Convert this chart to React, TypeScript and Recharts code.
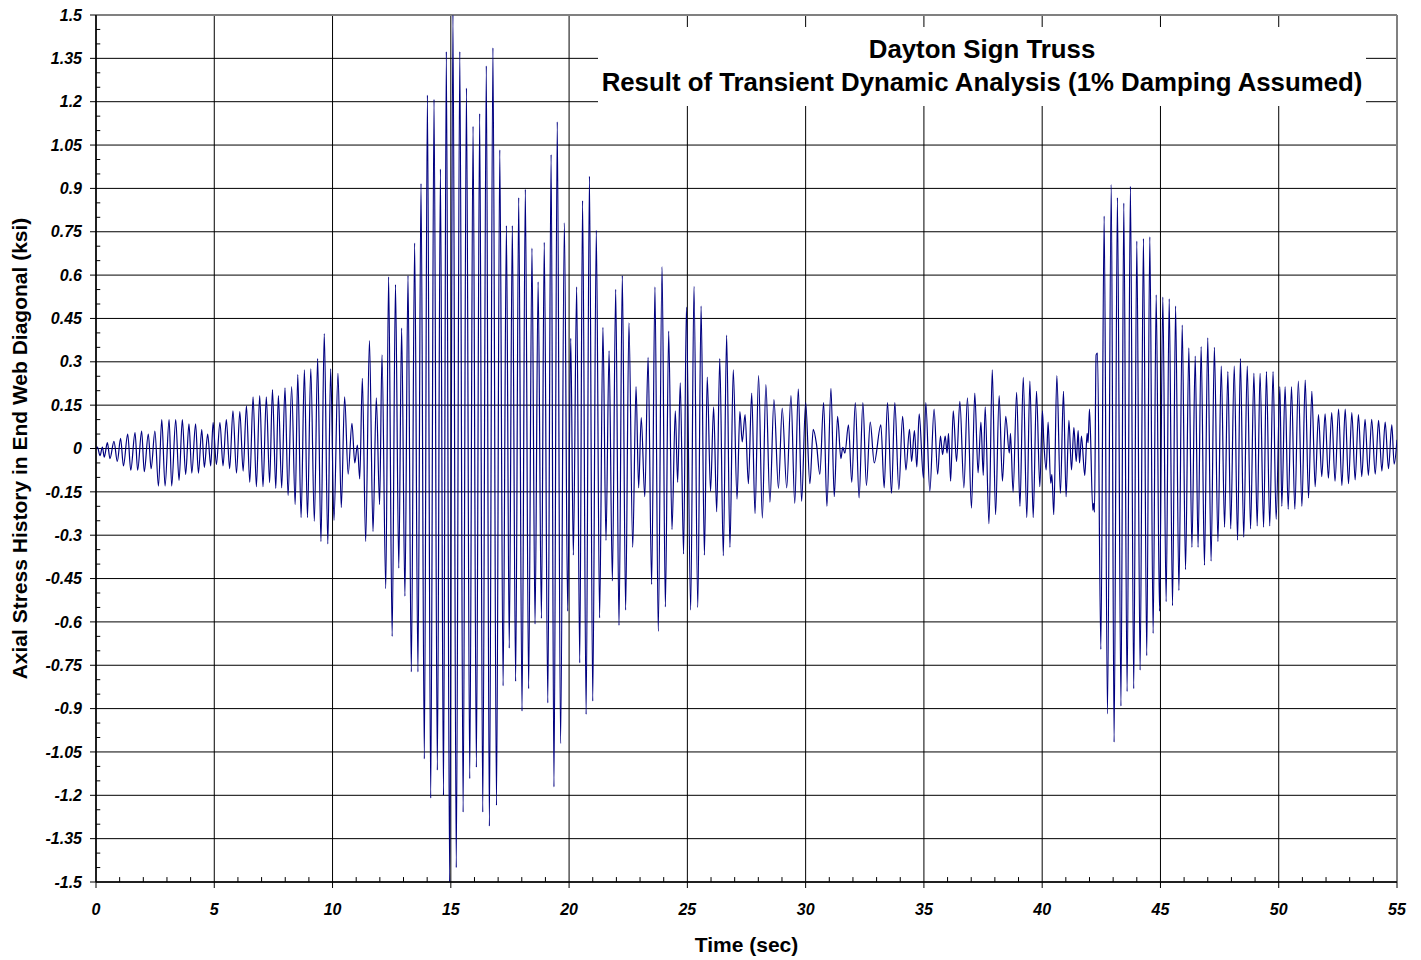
import React from "react";
import { LineChart, Line, XAxis, YAxis, CartesianGrid, ReferenceLine, Label } from "recharts";

// ---- tick labels ----
const xTicks = [0, 5, 10, 15, 20, 25, 30, 35, 40, 45, 50, 55];
const yTicks = [1.5, 1.35, 1.2, 1.05, 0.9, 0.75, 0.6, 0.45, 0.3, 0.15, 0, -0.15, -0.3, -0.45, -0.6, -0.75, -0.9, -1.05, -1.2, -1.35, -1.5];
const xMinorTicks = [1, 2, 3, 4, 6, 7, 8, 9, 11, 12, 13, 14, 16, 17, 18, 19, 21, 22, 23, 24, 26, 27, 28, 29, 31, 32, 33, 34, 36, 37, 38, 39, 41, 42, 43, 44, 46, 47, 48, 49, 51, 52, 53, 54];
const yMinorTicks = [1.45, 1.4, 1.3, 1.25, 1.15, 1.1, 1.0, 0.95, 0.85, 0.8, 0.7, 0.65, 0.55, 0.5, 0.4, 0.35, 0.25, 0.2, 0.1, 0.05,
  -0.05, -0.1, -0.2, -0.25, -0.35, -0.4, -0.5, -0.55, -0.65, -0.7, -0.8, -0.85, -0.95, -1.0, -1.1, -1.15, -1.25, -1.3, -1.4, -1.45];

// ---- series: time (sec) and axial stress (ksi) ----
const time0to5 = [0, 0.06, 0.17, 0.27, 0.35, 0.48, 0.59, 0.76, 0.9, 1.04, 1.16, 1.34, 1.47, 1.65, 1.76, 1.93, 2.04, 2.21, 2.33, 2.49, 2.64, 2.78, 2.92, 3.09, 3.2, 3.37, 3.51, 3.65, 3.79, 3.93, 4.05, 4.21, 4.33, 4.47, 4.58, 4.72];
const stress0to5 = [0, 0.005, -0.025, 0.005, -0.03, 0.02, -0.035, 0.025, -0.045, 0.035, -0.06, 0.05, -0.075, 0.055, -0.075, 0.06, -0.08, 0.05, -0.07, 0.06, -0.13, 0.1, -0.13, 0.1, -0.13, 0.1, -0.11, 0.1, -0.09, 0.085, -0.085, 0.085, -0.085, 0.065, -0.065, 0.05];

const time5to10 = [4.85, 4.95, 5.09, 5.24, 5.37, 5.51, 5.65, 5.79, 5.94, 6.08, 6.22, 6.36, 6.5, 6.64, 6.78, 6.92, 7.06, 7.2, 7.34, 7.46, 7.6, 7.71, 7.85, 7.99, 8.12, 8.27, 8.42, 8.53, 8.67, 8.81, 8.94, 9.08, 9.23, 9.37, 9.51, 9.65, 9.8];
const stress5to10 = [-0.06, 0.09, -0.055, 0.09, -0.06, 0.1, -0.07, 0.13, -0.085, 0.128, -0.078, 0.148, -0.117, 0.179, -0.132, 0.183, -0.132, 0.179, -0.118, 0.204, -0.138, 0.183, -0.136, 0.21, -0.163, 0.214, -0.194, 0.256, -0.239, 0.272, -0.239, 0.276, -0.252, 0.311, -0.322, 0.398, -0.33];

const time10to15 = [9.92, 10.06, 10.23, 10.37, 10.51, 10.66, 10.82, 10.94, 11.05, 11.15, 11.26, 11.4, 11.56, 11.71, 11.85, 11.99, 12.09, 12.25, 12.37, 12.52, 12.66, 12.8, 12.92, 13.06, 13.19, 13.33, 13.47, 13.61, 13.74, 13.88, 14.01, 14.15, 14.29, 14.43, 14.56, 14.69, 14.81];
const stress10to15 = [0.276, -0.249, 0.26, -0.204, 0.179, -0.089, 0.087, -0.05, 0.012, -0.105, 0.243, -0.322, 0.373, -0.287, 0.175, -0.194, 0.324, -0.485, 0.594, -0.65, 0.567, -0.414, 0.417, -0.511, 0.598, -0.773, 0.711, -0.773, 0.917, -1.074, 1.223, -1.21, 1.208, -1.113, 0.967, -1.2, 1.373];

const time15to20 = [14.95, 15.09, 15.23, 15.38, 15.52, 15.66, 15.8, 15.94, 16.08, 16.22, 16.35, 16.5, 16.63, 16.78, 16.93, 17.07, 17.21, 17.35, 17.47, 17.6, 17.74, 17.87, 18.01, 18.15, 18.29, 18.43, 18.56, 18.69, 18.83, 18.95, 19.1, 19.24, 19.36, 19.5, 19.64, 19.8];
const stress15to20 = [-1.5, 1.5, -1.45, 1.373, -1.258, 1.247, -1.142, 1.115, -1.103, 1.159, -1.258, 1.324, -1.307, 1.386, -1.235, 1.033, -0.821, 0.771, -0.691, 0.771, -0.806, 0.868, -0.909, 0.897, -0.831, 0.693, -0.608, 0.577, -0.588, 0.713, -0.88, 1.017, -1.171, 1.13, -1.021, 0.781];

const time20to25 = [19.94, 20.07, 20.18, 20.32, 20.45, 20.57, 20.72, 20.86, 21.0, 21.15, 21.29, 21.43, 21.56, 21.69, 21.83, 21.97, 22.11, 22.25, 22.39, 22.53, 22.69, 22.83, 22.94, 23.05, 23.2, 23.34, 23.49, 23.63, 23.77, 23.93, 24.07, 24.21, 24.35, 24.49, 24.59, 24.7, 24.84];
const stress20to25 = [-0.563, 0.381, -0.369, 0.559, -0.742, 0.858, -0.92, 0.942, -0.874, 0.755, -0.586, 0.419, -0.318, 0.338, -0.458, 0.551, -0.612, 0.598, -0.559, 0.435, -0.342, 0.214, -0.136, 0.107, -0.167, 0.315, -0.47, 0.559, -0.633, 0.629, -0.548, 0.406, -0.28, 0.13, -0.117, 0.227, -0.365];

const time25to30 = [24.96, 25.14, 25.28, 25.44, 25.58, 25.72, 25.84, 25.98, 26.11, 26.24, 26.37, 26.52, 26.66, 26.8, 26.94, 27.1, 27.22, 27.32, 27.44, 27.58, 27.72, 27.86, 28.01, 28.17, 28.32, 28.49, 28.66, 28.85, 29.01, 29.2, 29.38, 29.54, 29.69, 29.83];
const stress25to30 = [0.489, -0.559, 0.561, -0.55, 0.493, -0.369, 0.247, -0.148, 0.144, -0.219, 0.311, -0.371, 0.392, -0.342, 0.272, -0.175, 0.128, 0.023, 0.117, -0.122, 0.192, -0.225, 0.252, -0.241, 0.221, -0.186, 0.169, -0.138, 0.14, -0.136, 0.183, -0.19, 0.206, -0.183];

const time30to35 = [30.0, 30.18, 30.32, 30.46, 30.6, 30.76, 30.9, 31.07, 31.21, 31.35, 31.49, 31.57, 31.66, 31.81, 31.95, 32.1, 32.26, 32.42, 32.57, 32.73, 32.9, 33.18, 33.32, 33.46, 33.63, 33.77, 33.94, 34.1, 34.24, 34.39, 34.48, 34.6, 34.7, 34.8, 34.98];
const stress30to35 = [0.16, -0.122, 0.066, 0.014, -0.089, 0.159, -0.2, 0.208, -0.167, 0.111, -0.035, 0.004, -0.016, 0.082, -0.117, 0.159, -0.171, 0.159, -0.128, 0.091, -0.05, 0.082, -0.136, 0.159, -0.155, 0.159, -0.142, 0.111, -0.074, 0.066, -0.045, 0.062, -0.064, 0.12, -0.103];

const time35to40 = [35.08, 35.25, 35.43, 35.58, 35.7, 35.79, 35.9, 35.98, 36.04, 36.13, 36.24, 36.38, 36.52, 36.69, 36.84, 37.01, 37.15, 37.29, 37.41, 37.51, 37.59, 37.75, 37.89, 38.03, 38.18, 38.32, 38.46, 38.61, 38.66, 38.77, 38.92, 39.06, 39.2, 39.35, 39.48, 39.62, 39.76, 39.9, 40.01];
const stress35to40 = [0.159, -0.148, 0.136, -0.089, 0.043, -0.021, 0.043, -0.016, 0.052, -0.113, 0.13, -0.045, 0.163, -0.136, 0.175, -0.206, 0.192, -0.084, 0.091, -0.093, 0.144, -0.26, 0.272, -0.229, 0.183, -0.113, 0.111, -0.016, 0.052, -0.151, 0.194, -0.2, 0.246, -0.239, 0.233, -0.239, 0.198, -0.132, 0.13];

const time40to45 = [40.07, 40.17, 40.25, 40.36, 40.41, 40.49, 40.62, 40.77, 40.9, 41.01, 41.13, 41.24, 41.34, 41.44, 41.52, 41.58, 41.66, 41.8, 41.9, 41.94, 42.0, 42.14, 42.18, 42.21, 42.28, 42.34, 42.48, 42.62, 42.76, 42.92, 43.04, 43.18, 43.33, 43.45, 43.59, 43.73, 43.87, 44.0, 44.14, 44.28, 44.42, 44.55, 44.69, 44.82, 44.96];
const stress40to45 = [0.023, -0.074, 0.091, -0.12, -0.09, -0.229, 0.252, -0.155, 0.198, -0.167, 0.097, -0.074, 0.072, -0.045, 0.062, -0.05, 0.043, -0.093, 0.052, 0.02, 0.136, -0.214, -0.19, -0.22, 0.324, 0.33, -0.695, 0.804, -0.918, 0.913, -1.016, 0.868, -0.891, 0.849, -0.841, 0.907, -0.831, 0.718, -0.767, 0.726, -0.717, 0.732, -0.64, 0.532, -0.563];

const time45to50 = [45.1, 45.24, 45.37, 45.51, 45.64, 45.78, 45.92, 46.06, 46.2, 46.33, 46.47, 46.59, 46.72, 46.86, 47.0, 47.14, 47.28, 47.43, 47.57, 47.71, 47.85, 47.97, 48.12, 48.26, 48.38, 48.52, 48.67, 48.81, 48.95, 49.09, 49.21, 49.36, 49.48, 49.62, 49.76, 49.89, 50.05];
const stress45to50 = [0.524, -0.53, 0.518, -0.544, 0.493, -0.491, 0.427, -0.419, 0.348, -0.342, 0.32, -0.342, 0.353, -0.404, 0.383, -0.39, 0.35, -0.322, 0.285, -0.272, 0.266, -0.278, 0.285, -0.317, 0.311, -0.307, 0.285, -0.278, 0.26, -0.268, 0.26, -0.272, 0.266, -0.268, 0.266, -0.245, 0.214];

const time50to55 = [50.13, 50.27, 50.4, 50.54, 50.68, 50.83, 50.98, 51.12, 51.26, 51.4, 51.54, 51.68, 51.82, 51.96, 52.1, 52.24, 52.38, 52.53, 52.67, 52.81, 52.95, 53.09, 53.23, 53.37, 53.51, 53.65, 53.79, 53.93, 54.08, 54.22, 54.36, 54.5, 54.64, 54.78, 54.88, 55.0];
const stress50to55 = [-0.2, 0.214, -0.21, 0.214, -0.21, 0.233, -0.2, 0.237, -0.171, 0.198, -0.132, 0.117, -0.097, 0.12, -0.103, 0.124, -0.113, 0.136, -0.128, 0.136, -0.122, 0.124, -0.109, 0.117, -0.097, 0.101, -0.093, 0.101, -0.089, 0.097, -0.078, 0.091, -0.07, 0.082, -0.054, 0.03];

const timeSec = [...time0to5, ...time5to10, ...time10to15, ...time15to20, ...time20to25, ...time25to30, ...time30to35, ...time35to40, ...time40to45, ...time45to50, ...time50to55];
const stressKsi = [...stress0to5, ...stress5to10, ...stress10to15, ...stress15to20, ...stress20to25, ...stress25to30, ...stress30to35, ...stress35to40, ...stress40to45, ...stress45to50, ...stress50to55];

const data = timeSec.map((t, i) => ({ t, v: stressKsi[i] }));

const titleLine1 = "Dayton Sign Truss";
const titleLine2 = "Result of Transient Dynamic Analysis (1% Damping Assumed)";
const xLabel = "Time (sec)";
const yLabel = "Axial Stress History in End Web Diagonal (ksi)";

const FONT = '"Liberation Sans", Arial, Helvetica, sans-serif';

const YLabelContent = (props: any) => {
  const vb = props.viewBox || { x: 0, y: 7, width: 88, height: 867 };
  const cx = 11;
  const cy = vb.y + vb.height / 2;
  return (
    <text x={cx} y={cy} transform={`rotate(-90 ${cx} ${cy})`} textAnchor="middle" dominantBaseline="central"
      fontSize={21} fontWeight="bold" fill="#000" fontFamily={FONT}>
      {yLabel}
    </text>
  );
};

export default function App() {
  const tickStyle = { fill: "#000", fontSize: 16, fontWeight: "bold", fontStyle: "italic", fontFamily: FONT };
  return (
    <div style={{ position: "relative", width: 1405, height: 952, fontFamily: FONT }}>
      <LineChart width={1405} height={952} data={data} margin={{ top: 7, right: 16, bottom: 0, left: 0 }}>
        <CartesianGrid stroke="#000" strokeWidth={1} />
        <XAxis dataKey="t" type="number" domain={[0, 55]} ticks={xTicks} interval={0} allowDataOverflow
          height={78} tickSize={6} tickMargin={16} tick={tickStyle}
          axisLine={{ stroke: "#000", strokeWidth: 1.5 }} tickLine={{ stroke: "#000" }}>
          <Label value={xLabel} position="insideBottom" offset={8} fill="#000" fontSize={21} fontWeight="bold" fontFamily={FONT} />
        </XAxis>
        <YAxis type="number" domain={[-1.5, 1.5]} ticks={yTicks} interval={0} allowDataOverflow
          width={88} tickSize={6} tickMargin={8} tick={tickStyle}
          axisLine={{ stroke: "#000", strokeWidth: 1.5 }} tickLine={{ stroke: "#000" }}>
          <Label content={YLabelContent} />
        </YAxis>
        <ReferenceLine y={1.5} stroke="#808080" strokeWidth={2} />
        <ReferenceLine x={55} stroke="#808080" strokeWidth={2} />
        {yMinorTicks.map((v) => (
          <ReferenceLine key={"ym" + v} segment={[{ x: 0, y: v }, { x: 0.18, y: v }]} stroke="#000" strokeWidth={1} />
        ))}
        {xMinorTicks.map((t) => (
          <ReferenceLine key={"xm" + t} segment={[{ x: t, y: -1.5 }, { x: t, y: -1.483 }]} stroke="#000" strokeWidth={1} />
        ))}
        <Line type="monotone" dataKey="v" stroke="#000080" strokeWidth={1.2} dot={false} isAnimationActive={false} />
      </LineChart>
      <div style={{
        position: "absolute", left: 590, top: 19, width: 768, height: 79, background: "#fff",
        boxSizing: "border-box", paddingTop: 6, textAlign: "center", fontWeight: "bold", fontSize: 25.8,
        lineHeight: "33px", color: "#000", fontFamily: FONT, whiteSpace: "nowrap"
      }}>
        <div>{titleLine1}</div>
        <div>{titleLine2}</div>
      </div>
    </div>
  );
}
